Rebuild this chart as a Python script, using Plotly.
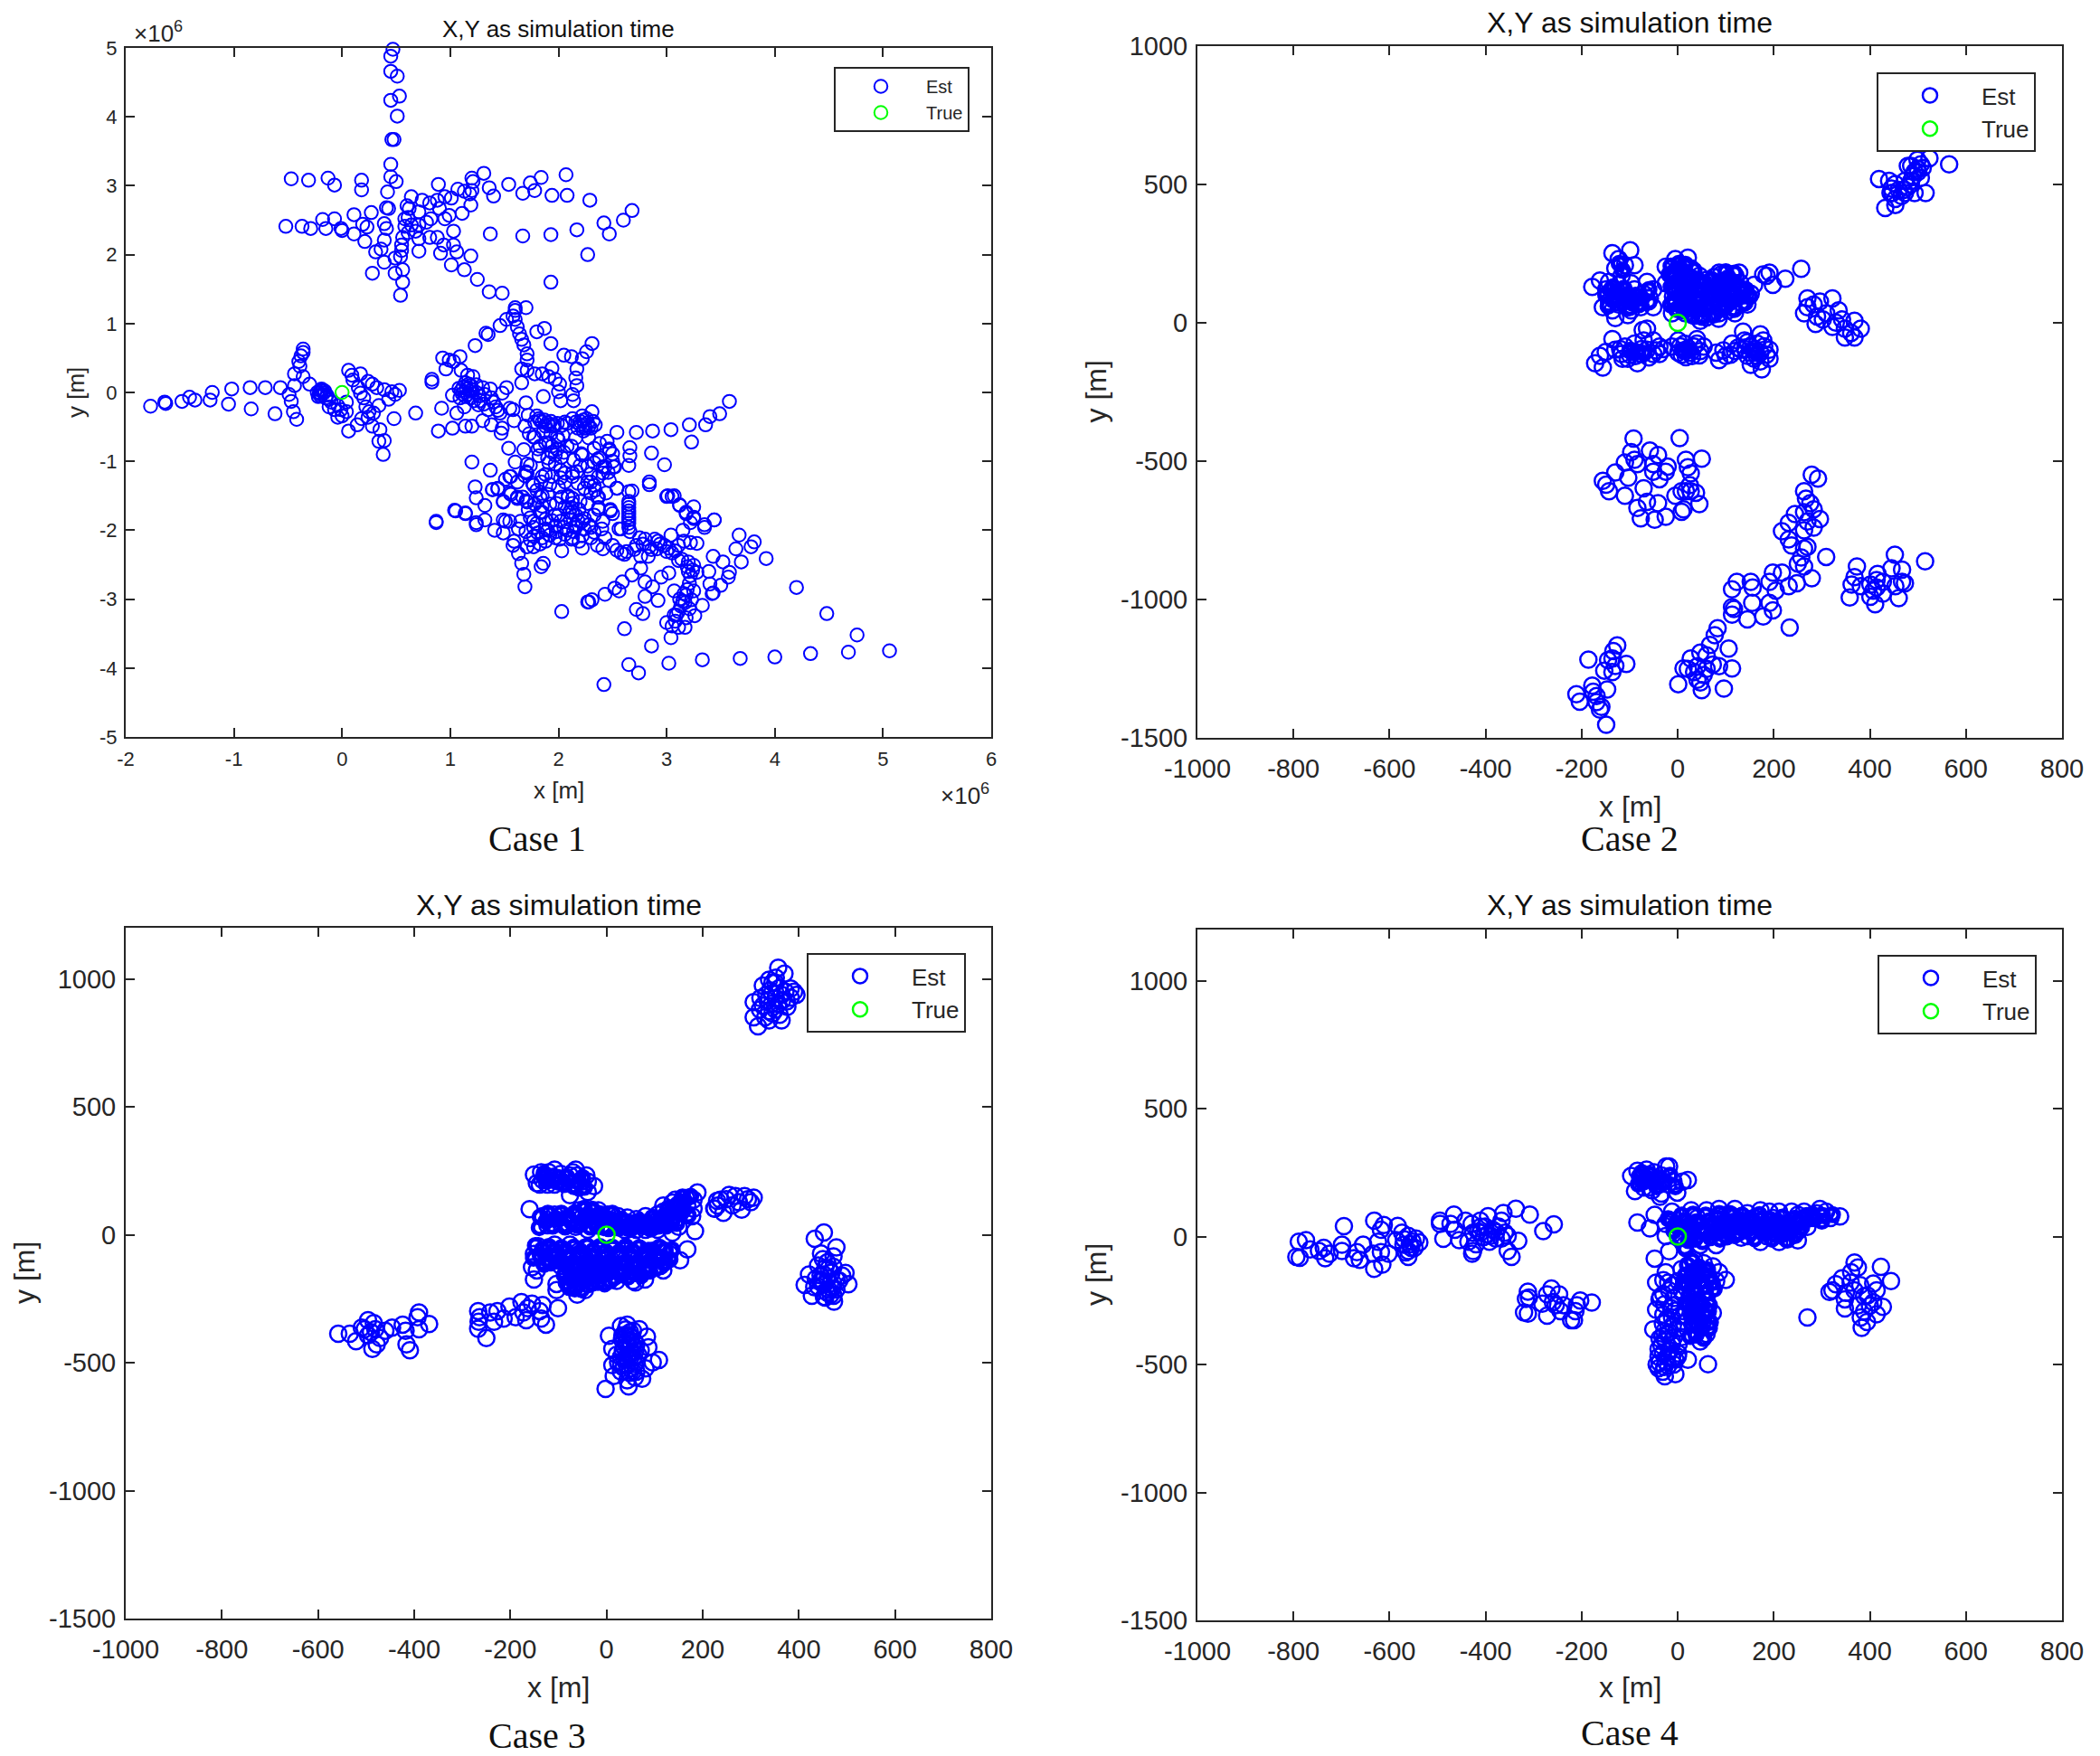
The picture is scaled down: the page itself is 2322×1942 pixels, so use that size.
import plotly.graph_objects as go

W, H = 2322, 1942

# values, (x, y); case 1 is in units of 1e6 m
case1_est = [
    (.47,4.98),(.45,4.88),(.45,4.66),(.51,4.59),(.53,4.30),(.45,4.24),(.51,4.01),(.46,3.67),(.48,3.67),(.45,3.31),(.45,3.13),(.50,3.06),(.42,2.91),
    (-.47,3.10),(-.31,3.08),(-.13,3.11),(-.07,3.01),(.18,3.08),(.18,2.94),
    (-.52,2.41),(-.37,2.41),(-.29,2.38),(-.18,2.51),(-.15,2.38),(-.07,2.52),(-.01,2.38),(0,2.35),(.11,2.58),(.11,2.30),(.19,2.44),(.23,2.40),(.27,2.61),(.21,2.19),(.31,2.04),(.36,2.08),(.39,2.21),(.39,2.45),(.41,2.68),(.43,2.67),(.41,2.38),(.39,1.89),(.28,1.73),(.49,1.73),(.49,1.95),(.54,1.97),(.55,2.06),(.55,2.14),(.56,2.25),(.56,1.78),(.56,1.60),(.54,1.41),
    (.60,2.71),(.64,2.84),(.62,2.67),(.58,2.52),(.61,2.54),(.58,2.41),(.64,2.43),(.61,2.32),(.68,2.34),(.71,2.43),(.71,2.62),(.74,2.79),(.78,2.47),(.82,2.52),(.81,2.75),(.88,2.79),(.90,2.67),(.95,2.52),(.99,2.57),(.95,2.84),(1.01,2.82),(1.11,2.60),(1.19,2.72),(.89,3.02),(1.07,2.95),(1.13,2.92),(1.18,2.88),(1.20,2.93),(1.21,3.06),(1.20,3.11),(1.31,3.18),(1.36,2.97),(1.40,2.85),(1.54,3.02),(1.67,2.89),(1.74,3.04),(1.78,2.93),(1.84,3.12),(1.94,2.86),(2.07,3.16),(2.08,2.86),(2.29,2.79),(2.68,2.64),(2.60,2.50),(2.42,2.46),(2.17,2.36),(2.47,2.30),(1.93,2.29),(1.67,2.27),(1.37,2.30),(1.03,2.34),(.88,2.25),(.81,2.25),(.71,2.23),(.94,2.14),(.91,2.02),(1.03,2.14),(1.06,2.04),(1.19,1.98),(1.01,1.85),(1.13,1.78),(1.25,1.64),(1.36,1.46),(1.48,1.44),(1.93,1.60),(2.27,2.00),(.71,2.05),
    (-1.77,-.20),(-1.64,-.14),(-1.63,-.16),(-1.48,-.13),(-1.41,-.07),(-1.36,-.11),(-1.22,-.11),(-1.20,0),(-1.05,-.17),(-1.02,.05),(-.84,-.24),(-.85,.07),(-.71,.07),(-.57,.07),(-.62,-.31),(-.49,-.03),(-.47,-.13),(-.45,-.28),(-.42,-.39),(-.44,.10),(-.44,.27),(-.40,.45),(-.38,.53),(-.36,.63),(-.36,.58),(-.39,.38),(-.36,.23),(-.30,.12),
    (-.19,.05),(-.21,-.01),(-.22,-.06),(-.17,-.01),(-.18,.03),(-.15,-.08),(-.12,-.10),(-.10,-.14),(-.12,-.21),(-.07,-.25),(-.04,-.19),(-.01,-.25),(-.04,-.36),(0,-.34),(.04,-.28),(.04,-.14),
    (.06,.32),(.09,.25),(.10,.18),(.17,.27),(.24,.16),(.28,.12),(.32,.07),(.39,.04),(.46,.01),(.53,.03),(.49,-.03),(.43,-.10),(.34,-.19),(.17,-.01),(.20,-.08),(.22,-.21),(.25,-.28),(.29,-.30),(.24,-.36),(.18,-.38),(.14,-.47),(.06,-.56),(.28,-.49),(.35,-.54),(.34,-.71),(.39,-.70),(.38,-.90),(.48,-.38),(.68,-.30),(.15,.07),
    (1.60,1.23),(1.60,1.19),(1.70,1.23),(1.58,1.11),(1.60,1.06),(1.52,1.06),(1.46,.97),(1.62,.95),(1.64,.85),(1.66,.77),(1.68,.69),(1.71,.56),(1.71,.47),(1.80,.88),(1.87,.93),(1.93,.71),(1.33,.86),(1.35,.84),(1.23,.68),(2.05,.54),(2.12,.52),(2.31,.71),(2.26,.59),(2.22,.49),(2.17,.34),(2.16,.21),(2.17,.10),(2.13,-.03),(2.14,-.12),
    (.93,.50),(.99,.47),(1.03,.45),(1.09,.52),(.96,.34),(1.10,.32),(1.16,.25),(1.21,.23),(.83,.19),(.83,.15),
    (1.13,.01),(1.14,.14),(1.19,.10),(1.10,.03),(1.16,-.03),(1.19,-.08),(1.09,-.08),(1.13,-.21),(1.02,-.04),(.92,-.23),(1.06,-.30),(1.30,.07),(1.37,.05),(1.32,-.03),(1.38,-.08),(1.31,-.17),(1.35,-.25),(1.42,-.21),(1.46,-.30),(1.55,-.23),(1.58,-.25),(1.52,.07),(1.48,-.01),(1.59,-.41),(1.30,-.41),(1.38,-.47),(1.48,-.52),(1.47,-.59),(1.20,-.49),(1.14,-.49),(1.02,-.52),(.89,-.56),
    (1.66,.14),(1.66,.34),(1.71,.32),(1.78,.27),(1.85,.27),(1.94,.35),(1.91,.23),(1.97,.19),(2.01,.12),(2.00,.01),(2.02,-.12),(1.86,-.06),(1.70,-.15),(1.72,-.33),(1.69,-.49),
    (1.80,-.34),(1.85,-.43),(1.91,-.47),(1.99,-.45),(1.83,-.41),(1.88,-.49),(1.95,-.49),(2.08,-.45),(2.13,-.38),(2.22,-.34),(2.24,-.47),(2.30,-.52),(2.34,-.47),(2.26,-.38),(2.31,-.28),(2.20,-.47),(2.23,-.56),
    (2.54,-.58),(2.72,-.58),(2.87,-.56),(3.04,-.54),(3.21,-.47),(3.36,-.47),(3.40,-.35),(3.49,-.31),(3.58,-.13),(3.23,-.72),(2.98,-1.05),(2.86,-.88),(2.65,-1.06),(2.66,-.92),(2.66,-.80),(2.45,-.71),(2.47,-.82),(2.50,-.89),(2.51,-1.08),(2.54,-1.39),(2.84,-1.30),(2.84,-1.34),
    (1.54,-.81),(1.68,-.83),(1.81,-.82),(1.90,-.95),(2.21,-.89),(2.33,-.81),(2.33,-1.02),(2.38,-.95),(2.43,-1.08),(2.41,-1.17),
    (1.20,-1.01),(1.37,-1.13),(1.60,-1.01),(1.71,-1.04),(1.71,-1.17),(1.55,-1.22),(1.51,-1.26),(1.85,-1.22),(2.02,-1.13),(1.97,-1.04),(1.94,-.87),(1.99,-.82),(2.08,-.78),(1.88,-.73),(1.78,-.65),(1.73,-.60),(1.99,-.65),(2.17,-1.15),(2.13,-1.22),(2.27,-1.30),(2.33,-1.35),
    (1.23,-1.37),(1.24,-1.53),(1.32,-1.64),(1.39,-1.41),(1.44,-1.39),(1.55,-1.46),(1.62,-1.52),(1.70,-1.57),(1.49,-1.58),(1.77,-1.35),(1.85,-1.50),(1.98,-1.61),(2.09,-1.52),(2.13,-1.61),(2.36,-1.52),(2.37,-1.70),(2.48,-1.70),
    (3.01,-1.50),(3.07,-1.50),(3.12,-1.63),(3.18,-1.74),(3.25,-1.66),(3.25,-1.81),(3.44,-1.85),(3.35,-1.92),
    (1.05,-1.72),(1.14,-1.76),(.87,-1.87),(1.24,-1.89),(1.32,-1.85),(1.49,-1.85),(1.55,-1.87),(1.65,-1.87),(1.77,-1.87),(1.85,-1.74),(2.00,-1.78),(2.13,-1.74),
    (1.04,-1.71),(1.14,-1.75),(.87,-1.89),(1.24,-1.92),(1.41,-2.00),(1.49,-2.04),(1.51,-1.87),(1.58,-2.22),(1.59,-2.16),(1.63,-2.34),(1.66,-2.48),(1.68,-2.64),(1.69,-2.82),(1.84,-2.53),(1.86,-2.48),(1.71,-2.24),(1.77,-2.24),(1.83,-2.20),(1.88,-2.16),(1.97,-2.11),(2.03,-2.30),(2.12,-2.13),(2.19,-2.16),(2.22,-2.26),(2.30,-2.11),(2.36,-2.22),(2.41,-2.27),(2.50,-2.22),(2.54,-2.29),(2.58,-2.33),(2.63,-2.31),(2.61,-2.35),
    (2.65,-1.44),(2.65,-1.58),(2.65,-1.62),(2.65,-1.67),(2.65,-1.72),(2.65,-1.76),(2.65,-1.81),(2.65,-1.85),(2.65,-1.90),(2.65,-1.96),(2.68,-1.43),(2.58,-1.98),(2.66,-2.02),
    (2.75,-2.11),(2.80,-2.13),(2.72,-2.22),(2.89,-2.13),(2.94,-2.20),(2.83,-2.38),(2.76,-2.38),(2.76,-2.55),(2.68,-2.65),(2.59,-2.75),(2.52,-2.84),(2.56,-2.88),(2.43,-2.93),(2.31,-3.01),(2.27,-3.04),(2.03,-3.18),(2.80,-2.75),(2.87,-2.82),(2.80,-2.96),(2.92,-3.02),(2.72,-3.15),(2.78,-3.21),(2.61,-3.43),(2.86,-3.68),(3.04,-3.56),(3.00,-3.34),(3.05,-3.39),(3.11,-3.41),(3.17,-3.41),(2.95,-2.68),(3.02,-2.62),(3.07,-2.88),(3.05,-2.33),(3.00,-2.31),(2.91,-2.27),(3.11,-2.22),(3.16,-2.16),(3.22,-2.18),(3.28,-2.19),(3.04,-2.07),(3.15,-2.00),(3.35,-1.96),(3.44,-1.85),(3.22,-1.89),(3.25,-1.83),(3.18,-1.76),(3.12,-1.64),(3.05,-1.51),(3.00,-1.51),(3.11,-2.44),(3.19,-2.53),(3.25,-2.51),(3.28,-2.61),(3.39,-2.60),(3.43,-2.38),(3.52,-2.46),(3.67,-2.07),(3.64,-2.27),(3.69,-2.46),(3.78,-2.24),(3.81,-2.17),(3.92,-2.41),(3.58,-2.61),(3.57,-2.68),(3.50,-2.80),(3.43,-2.91),(3.42,-2.92),(3.40,-2.78),(3.33,-3.09),(3.26,-3.24),
    (3.22,-2.66),(3.21,-2.77),(3.19,-2.86),(3.18,-2.94),(3.15,-3.03),(3.13,-3.10),(3.11,-3.18),(3.09,-3.23),(3.07,-3.23),(3.25,-2.88),(3.23,-3.01),(3.21,-3.14),(3.18,-3.27),
    (2.65,-3.95),(2.74,-4.07),(2.42,-4.24),(3.02,-3.93),(3.33,-3.88),(3.68,-3.86),(4.00,-3.84),(4.33,-3.79),(4.68,-3.77),(5.06,-3.75),(4.76,-3.52),(4.48,-3.21),(4.20,-2.83),(2.28,-3.04),
    (1.77,-.65),(1.83,-.78),(1.91,-.73),(2.00,-.69),(1.97,-.91),(2.05,-.87),(2.12,-.78),(2.22,-.91),(2.47,-.84),(2.50,-1.00),(2.52,-1.08),(2.41,-1.08),(2.36,-.97),(2.20,-1.06),(2.13,-1.17),(2.06,-1.17),(1.91,-1.02),(1.88,-1.19),(1.74,-1.06),(1.70,-1.15),(1.69,-1.21),(1.56,-1.22),(1.44,-1.40),(1.39,-1.41),(1.49,-1.59),(1.56,-1.48),(1.62,-1.54),(1.67,-1.52),(1.71,-1.59),(1.76,-1.32),(1.84,-1.30),(1.83,-1.52),(1.90,-1.48),(1.94,-1.22),(2.02,-1.24),(2.00,-1.37),(2.09,-1.50),(2.13,-1.54),(2.19,-1.70),(2.24,-1.39),(2.30,-1.30),(2.37,-1.22),(2.47,-1.28),(2.54,-1.39),(2.37,-1.52),(2.27,-1.61),(2.37,-1.67),(2.48,-1.72),(2.50,-1.76),(2.41,-1.87),(2.33,-1.78),(2.24,-1.83),(2.16,-1.78),(2.12,-1.67),(1.83,-1.74),(1.85,-1.65),(1.97,-1.78),(2.02,-1.87),(1.97,-1.94),(1.88,-1.98),(1.77,-1.96),(1.70,-2.02),(1.77,-2.09),(1.85,-2.11),(1.92,-2.07),(2.01,-2.13),(2.08,-2.00),(2.16,-1.96),(2.24,-1.98),(2.33,-2.03),(2.43,-2.11),(2.56,-1.98),(2.13,-2.11),(2.16,-1.92),(2.11,-1.85),(2.22,-1.87),
]

# crowded spots of case 1, read where the rings overlap
case1_more = [
    (1.12,.08),(1.15,.05),(1.18,.02),(1.11,-.02),(1.14,-.06),(1.17,.12),(1.08,.06),(1.20,.04),(1.24,0),(1.27,-.05),(1.22,-.12),(1.28,-.12),(1.24,.11),(1.26,-.18),(1.40,-.14),(1.44,-.26),
    (1.82,-.38),(1.87,-.40),(1.90,-.44),(1.93,-.42),(1.96,-.47),(2.03,-.48),(2.06,-.43),(2.20,-.42),(2.23,-.40),(2.27,-.44),(2.28,-.50),(2.25,-.52),(2.32,-.42),(2.18,-.52),(2.16,-.43),(1.78,-.43),
    (-.20,.03),(-.19,-.03),(-.16,.02),(-.20,-.05),(-.23,0),(-.14,-.04),
    (1.86,-.58),(1.93,-.60),(2.04,-.62),(2.16,-.66),(2.28,-.66),(2.38,-.74),(1.82,-.92),(1.94,-.78),(2.03,-.94),(2.14,-.98),(2.27,-1.07),(2.30,-1.18),(2.46,-1.16),
    (1.62,-1.30),(1.80,-1.42),(1.92,-1.34),(2.06,-1.30),(2.18,-1.32),(2.34,-1.42),(2.44,-1.46),(1.72,-1.70),(1.78,-1.62),(1.92,-1.62),(2.03,-1.52),(2.06,-1.66),(2.20,-1.58),(2.30,-1.46),
    (1.63,-1.98),(1.74,-1.82),(1.80,-1.90),(1.88,-1.84),(1.94,-1.86),(2.05,-1.96),(2.10,-1.74),(2.18,-1.86),(2.28,-1.92),(2.40,-1.98),(1.74,-2.14),(1.81,-2.04),(1.90,-2.00),(1.98,-2.02),(2.06,-2.06),(2.14,-2.02),(2.22,-2.08),(2.30,-1.96),
    (2.78,-2.20),(2.84,-2.24),(2.92,-2.16),(2.98,-2.22),(3.02,-2.26),(3.08,-2.30),(2.86,-2.28),(2.70,-2.28),(3.14,-2.42),(3.20,-2.46),(3.24,-2.58),(3.20,-2.60),(3.16,-2.92),(3.12,-3.00),(3.17,-3.05),(3.08,-3.32),
]

case2_est = [
    (419,520),(432,415),(440,513),(443,469),(453,502),(453,426),(466,458),(479,491),(479,567),(486,513),(499,589),(493,546),(506,573),(524,595),(565,573),(516,469),(506,524),(493,469),(453,448),(473,513),(486,567),(499,556),(447,469),(460,480),(473,469),
    (-136,252),(-99,262),(-123,230),(-110,208),(-90,208),(-130,197),(-178,130),(-162,153),(-149,121),(-143,77),(-130,17),(-104,28),(-64,148),(-58,88),(-84,77),(-110,110),(-130,99),(-90,121),(-156,56),(-77,56),(-51,121),(-104,56),(-123,66),(-143,148),(-51,56),(-71,105),(-136,45),(-97,45),(-123,137),(-97,143),(-117,170),
    (-25,203),(-5,230),(21,235),(8,208),(27,197),(-5,186),(-25,143),(-12,34),(14,45),(47,7),(47,34),(67,34),(86,34),(119,34),(145,66),(132,121),(128,181),(86,181),(159,137),(185,170),(178,175),(191,181),(224,159),(257,195),(198,137),(152,105),
    (-5,60),(10,75),(25,55),(40,70),(55,60),(70,75),(85,60),(100,75),(115,60),(-10,95),(5,110),(20,90),(35,105),(50,95),(65,110),(80,90),(95,105),(110,90),(125,110),(-5,130),(10,145),(25,125),(40,140),(55,130),(70,145),(85,125),(100,140),(115,125),(130,145),(0,165),(15,180),(30,160),(45,170),(60,155),(75,165),(90,175),(105,160),(120,170),(10,200),(0,120),(15,35),(35,25),(60,20),(85,15),(105,45),(130,75),(140,100),
    (-64,-21),(-73,-26),(-136,-59),(-162,-119),(-172,-146),(-156,-162),(-130,-97),(-104,-130),(-84,-146),(-110,-86),(-90,-75),(-71,-64),(-51,-64),(-38,-86),(-51,-113),(-77,-113),(-97,-102),(-64,-97),(-117,-113),(-38,-113),
    (1,-64),(40,-59),(-12,-86),(14,-75),(34,-86),(54,-86),(17,-124),(1,-108),(27,-108),(47,-102),
    (136,-32),(172,-42),(86,-135),(80,-108),(113,-75),(119,-102),(100,-119),(145,-70),(178,-64),(191,-97),(172,-140),(175,-168),(159,-130),(145,-119),(172,-108),(152,-86),(132,-97),(152,-152),(139,-64),(191,-130),
    (270,88),(270,56),(290,23),(287,-4),(322,88),(296,77),(263,34),(309,34),(335,45),(329,1),(348,-21),(368,7),(368,-53),(381,-21),(348,-53),(322,-15),(302,12),(361,-37),(342,12),(283,66),
    (-92,-418),(4,-417),(-97,-467),(-58,-462),(-90,-495),(-41,-478),(-110,-505),(-84,-511),(-51,-511),(-21,-520),(17,-495),(50,-491),(21,-522),(27,-544),(-130,-541),(-156,-571),(-149,-585),(-143,-609),(-103,-560),(-110,-625),(-71,-598),(-38,-565),(-64,-647),(-84,-669),(-77,-707),(-48,-712),(-25,-701),(-41,-652),(-5,-625),(8,-609),(27,-609),(38,-614),(45,-655),(8,-683),(12,-674),(-51,-538),(-25,-538),(17,-609),(25,-587),
    (279,-549),(292,-563),(263,-609),(267,-636),(276,-652),(283,-674),(296,-709),(244,-691),(231,-723),(263,-685),(283,-740),(217,-753),(231,-783),(237,-805),(263,-750),(270,-718),(263,-816),(270,-810),(309,-846),(257,-848),(250,-870),(263,-881),(279,-923),(248,-941),
    (217,-903),(198,-903),(191,-936),(204,-968),(231,-952),(152,-936),(156,-957),(123,-936),(113,-963),(113,-1028),(117,-1034),(113,-1055),(145,-1072),(155,-1012),(191,-1012),(198,-1039),(178,-1061),(233,-1101),
    (452,-838),(515,-862),(373,-881),(368,-919),(445,-887),(467,-892),(416,-908),(362,-946),(381,-952),(401,-946),(414,-957),(427,-936),(467,-936),(473,-941),(358,-993),(401,-990),(411,-1017),(460,-995),(427,-979),(414,-930),(453,-952),(407,-968),
    (83,-1104),(77,-1129),(67,-1164),(106,-1177),(47,-1192),(27,-1213),(12,-1249),(1,-1306),(113,-1249),(86,-1241),(73,-1235),(60,-1202),(41,-1241),(60,-1251),(34,-1262),(54,-1273),(41,-1290),(50,-1328),(96,-1322),(47,-1300),(21,-1251),
    (-186,-1217),(-126,-1166),(-134,-1186),(-145,-1219),(-136,-1213),(-107,-1233),(-153,-1257),(-136,-1262),(-130,-1240),(-178,-1311),(-147,-1325),(-211,-1342),(-204,-1369),(-169,-1349),(-169,-1371),(-159,-1388),(-162,-1398),(-149,-1453),(-176,-1333),
    (490,530),(500,545),(510,560),(470,480),(485,500),(445,485),
    (-150,-105),(-120,-95),(-100,-115),(-88,-120),(-75,-95),(-60,-125),(-45,-100),(-30,-95),(-115,-130),(-90,-105),
    (5,-85),(12,-100),(22,-92),(40,-75),(8,-115),(30,-120),(45,-118),
    (160,-95),(165,-120),(150,-108),(140,-95),(180,-85),(185,-115),(125,-90),(110,-115),(95,-100),(165,-75),
]

# solid looking parts, estimated inside the filled areas, drawn with a heavier ring
case2_solid = [
    (-3,48),(6,62),(18,47),(31,62),(44,50),(58,47),(72,64),(88,47),(101,62),(118,48),(-8,82),(7,94),(22,78),(36,90),(50,80),(66,92),(82,78),(96,90),(111,76),(128,92),
    (-7,116),(9,128),(23,112),(38,124),(53,114),(68,128),(84,110),(98,124),(114,108),(131,126),(-2,150),(13,160),(27,146),(42,156),(57,144),(71,156),(87,146),(102,156),(118,146),(8,190),(20,172),(34,190),(-10,172),
    (-140,118),(-125,85),(-112,125),(-100,92),(-88,100),(-75,88),(-135,82),(-115,72),(-95,72),(-80,66),(-128,112),(-105,100),(-122,215),(-115,190),
    (-85,-105),(-70,-110),(-100,-100),(10,-100),(25,-100),(165,-110),(155,-100),
    (-14,205),(2,215),(16,212),(-18,175),(-14,130),(100,185),(118,180),(142,120),(150,95),(140,72),(-15,65),(30,25),(50,20),(75,28),(-60,120),(-150,100),(-145,60),(-60,75),(-100,55),(-135,130),
]

case3_est = [
    (357,1044),(370,1021),(338,997),(325,974),(351,985),(383,962),(395,938),(306,909),(306,850),(315,815),(338,838),(364,838),(332,938),(364,938),(344,903),(376,891),(319,880),(351,880),(383,927),(344,945),(357,903),(338,874),
    (-151,235),(-133,214),(-120,244),(-108,255),(-95,238),(-139,196),(-123,196),(-108,196),(-76,232),(-70,202),(-76,155),(-61,232),(-42,232),(-39,208),(-26,190),(-39,167),(-57,185),(-111,226),(-136,244),(-92,208),(-51,208),(-64,255),(-70,244),(-145,202),(-117,220),
    (-160,100),(-133,73),(-123,37),(-108,79),(-95,43),(-70,67),(-57,96),(-39,96),(-17,96),(2,79),(24,73),(43,67),(62,61),(81,73),(99,49),(118,114),(137,126),(165,143),(189,165),(181,102),(178,73),(150,31),(137,8),(184,14),(106,20),(81,20),(62,20),(37,20),(-39,20),(-64,31),(-51,67),(-20,55),(5,37),(30,43),(49,37),(87,31),(118,90),(150,96),(168,114),(131,67),(150,67),(106,79),(-79,43),(-7,43),(74,43),(143,137),(181,137),
    (225,102),(237,137),(231,114),(230,133),(224,103),(249,139),(262,115),(281,98),(294,139),(287,151),(275,127),(255,156),(306,145),(243,86),(300,127),(268,151),
    (-142,-45),(-151,-75),(-108,-39),(-76,-39),(-45,-51),(55,-39),(87,-63),(115,-69),(131,-75),(168,-57),(153,-100),(118,-139),(80,-175),(60,-186),(21,-180),(-20,-175),(-61,-234),(-45,-216),(-104,-216),(-104,-192),(-151,-175),(-145,-139),(-155,-127),(-133,-98),(-101,-86),(-70,-98),(-39,-86),(-7,-98),(24,-98),(55,-98),(87,-110),(118,-98),(-57,-145),(-32,-133),(-7,-145),(18,-133),(-70,-169),(-39,-169),(43,-145),(-14,-63),(12,-63),(37,-63),(-120,-63),(-89,-69),(-57,-63),(-64,-192),(-39,-192),(80,-133),(112,-122),(-82,-145),(55,-180),(-7,-180),(-26,-86),(5,-110),(30,-133),(-45,-122),(-95,-122),(99,-86),(74,-86),
    (-101,-287),(-126,-351),(-133,-275),(-139,-298),(-155,-269),(-164,-287),(-177,-263),(-167,-334),(-189,-322),(-202,-281),(-214,-328),(-227,-298),(-242,-304),(-234,-340),(-267,-298),(-264,-322),(-266,-340),(-267,-367),(-250,-404),(-173,-304),(-136,-328),
    (-369,-349),(-390,-304),(-393,-322),(-390,-369),(-424,-351),(-418,-375),(-416,-428),(-409,-451),(-446,-363),(-460,-375),(-484,-345),(-496,-334),(-509,-363),(-534,-387),(-558,-387),(-521,-416),(-487,-446),(-478,-428),(-490,-381),(-481,-369),(-471,-404),(-496,-393),(-503,-369),
    (43,-351),(30,-357),(68,-369),(5,-395),(84,-398),(87,-440),(12,-446),(21,-469),(33,-393),(49,-416),(37,-440),(52,-463),(71,-452),(43,-487),(62,-499),(109,-489),(96,-499),(12,-510),(15,-552),(-2,-602),(46,-593),(74,-563),(59,-557),(30,-534),(49,-522),(81,-522),(43,-569),(49,-381),(37,-487),(55,-534),(62,-428),(24,-499),(49,-440),
    (452,9),(433,-16),(446,-73),(478,-49),(440,-120),(472,-85),(421,-155),(412,-196),(427,-238),(452,-243),(473,-261),(497,-149),(503,-193),(478,-214),(452,-155),(459,-108),(465,-190),(440,-202),(484,-179),(472,-238),
    (32,-410),(40,-426),(52,-400),(60,-454),(44,-470),(30,-478),(42,-508),(56,-480),(66,-470),(48,-396),
    (455,-130),(448,-178),(460,-170),(468,-148),(445,-158),(470,-210),(458,-225),(435,-172),(490,-160),
    (345,985),(360,965),(372,950),(340,955),(352,925),(335,915),(365,915),(375,912),(325,895),(345,865),(360,860),(330,850),(352,1005),(390,950),(320,925),
    (40,-370),(55,-375),(40,-392),(58,-418),(42,-412),(34,-452),(50,-478),(58,-505),(36,-520),(48,-540),(62,-535),(30,-510),
    (450,-95),(462,-132),(472,-125),(452,-195),(462,-215),(478,-175),(445,-180),(432,-205),(455,-245),(466,-235),
]

case3_solid = [
    (-140,28),(-126,52),(-112,34),(-100,60),(-86,30),(-74,52),(-62,38),(-48,58),(-34,30),(-22,48),(-10,62),(4,24),(16,50),(30,60),(44,26),(58,48),(70,32),(84,50),(98,30),(112,58),(124,34),(136,52),
    (-138,70),(-122,84),(-108,62),(-94,84),(-80,70),(-66,86),(-52,44),(-40,78),(-28,70),(-14,82),(-2,68),(12,84),(26,26),(40,52),(54,34),(68,54),(82,42),(96,68),(110,48),(122,78),(140,88),(152,82),
    (-30,100),(-46,104),(-62,82),(-20,34),(-6,28),(8,60),(20,32),(34,32),(50,22),(66,36),(92,22),(108,34),(126,48),(146,44),(158,92),(170,76),(160,128),(175,150),(148,120),(128,104),(140,108),(158,148),
    (-148,-42),(-134,-58),(-120,-46),(-108,-62),(-94,-50),(-82,-66),(-68,-48),(-54,-68),(-40,-44),(-28,-62),(-14,-46),(-2,-66),(12,-48),(26,-68),(40,-46),(54,-64),(68,-50),(82,-70),(96,-60),(110,-48),(122,-60),(136,-58),
    (-152,-92),(-138,-80),(-124,-96),(-112,-82),(-98,-104),(-84,-88),(-70,-112),(-56,-90),(-42,-106),(-30,-84),(-16,-112),(-2,-86),(10,-114),(24,-84),(38,-108),(50,-82),(64,-112),(78,-88),(92,-102),(106,-84),(120,-112),(132,-96),
    (-130,-116),(-116,-110),(-84,-122),(-70,-130),(-58,-116),(-46,-134),(-32,-114),(-20,-138),(-8,-118),(6,-136),(16,-116),(30,-144),(42,-120),(56,-128),(68,-146),(90,-142),(104,-130),
    (-88,-158),(-74,-150),(-60,-166),(-48,-150),(-34,-168),(-22,-152),(-10,-162),(4,-150),(16,-168),(30,-156),(44,-166),(58,-152),(72,-160),
    (-84,-188),(-72,-176),(-56,-192),(-46,-182),(-30,-190),(-18,-186),(-4,-192),(8,-180),(-78,-206),(-66,-212),(-52,-214),
    (-130,225),(-124,210),(-112,212),(-100,224),(-88,196),(-82,226),(-58,206),(-50,224),(-68,188),(-46,186),(-130,240),(-100,205),
]

case4_est = [
    (-794,-79),(-787,-83),(-789,-20),(-774,-14),(-765,-50),(-747,-56),(-737,-44),(-734,-85),(-725,-67),(-699,-32),(-695,41),(-699,-56),(-674,-85),(-662,-91),(-668,-61),(-655,-32),(-632,62),(-618,27),(-612,45),(-634,-67),(-624,-20),(-632,-126),(-615,-109),(-602,-67),(-618,-61),(-583,42),(-574,15),(-586,-14),(-561,3),(-552,-20),(-538,-23),(-561,-56),(-561,-79),(-571,-32),(-555,-44),
    (-495,62),(-495,50),(-466,86),(-442,62),(-488,-9),(-455,-14),(-464,27),(-473,50),(-429,50),(-426,15),(-436,-20),(-426,-56),(-428,-67),(-411,62),(-395,80),(-392,-20),(-401,39),(-385,27),(-373,39),(-363,92),(-337,109),(-308,86),(-367,-8),(-354,3),(-332,-17),(-354,-56),(-346,-79),(-280,21),(-258,48),(-379,-8),(-411,15),(-367,62),(-360,15),(-389,3),
    (-312,-215),(-310,-238),(-316,-244),(-320,-297),(-312,-301),(-263,-203),(-247,-226),(-272,-226),(-282,-262),(-272,-309),(-254,-268),(-244,-291),(-260,-256),(-222,-327),(-216,-327),(-203,-250),(-210,-268),(-179,-258),(-213,-291),(-238,-268),
    (-97,237),(-84,257),(-65,262),(-24,274),(-18,274),(21,221),(10,215),(-89,178),(-71,192),(-37,156),(-34,168),(-1,172),(-65,227),(-46,215),(-34,239),(-59,192),(-21,204),(-9,215),(-77,227),(-49,251),(-37,204),(-53,180),
    (-84,55),(-48,85),(-58,32),(-12,97),(28,103),(60,103),(86,108),(119,108),(172,103),(211,97),(237,97),(263,97),(296,108),(309,97),(338,79),(318,73),(270,38),(250,-15),(211,-21),(172,-21),(132,-4),(80,-33),(47,-33),(-18,-57),(-48,-86),
    (1,61),(41,73),(80,61),(119,73),(159,73),(198,73),(237,61),(276,73),(41,38),(80,26),(119,38),(159,26),(198,38),(231,26),(132,50),(185,2),(224,-4),(145,2),(34,2),(60,14),(14,-33),(21,50),(100,85),(145,91),(191,97),(250,85),(289,91),(-25,50),(-25,2),
    (-25,-139),(34,-92),(54,-104),(8,-127),(73,-116),(100,-169),(80,-174),(54,-139),(28,-163),(1,-174),(47,-198),(67,-210),(34,-233),(60,-245),(73,-298),(54,-281),(34,-269),(60,-316),(41,-345),(60,-381),(47,-410),(34,-363),(14,-292),(14,-340),(8,-210),(63,-499),(-45,-180),(-38,-245),(-45,-286),(-51,-363),(-31,-340),(-12,-316),(-25,-410),(-31,-457),(-38,-493),(-31,-528),(-27,-546),(-5,-538),(21,-481),(1,-457),(-12,-422),(8,-393),(-18,-210),(-18,-375),(-38,-398),(-5,-481),(-12,-269),(86,-139),
    (368,-101),(375,-121),(423,-118),(444,-174),(361,-139),(342,-163),(322,-210),(329,-186),(407,-184),(414,-210),(368,-210),(348,-245),(348,-281),(388,-233),(427,-275),(407,-257),(414,-304),(381,-316),(383,-357),(394,-334),(270,-316),(375,-269),(388,-292),(316,-216),
    (-30,-170),(-10,-190),(-30,-225),(-8,-240),(-28,-265),(-6,-290),(-30,-305),(-10,-345),(-28,-370),(-8,-395),(-34,-425),(-15,-445),(-40,-440),(-22,-470),(-8,-500),(-40,-515),(-20,-505),(2,-420),(-2,-360),(4,-310),
    (-558,-30),(-566,-62),(-548,-44),(-545,-8),(-570,-10),(-416,20),(-404,-2),(-420,-30),(-396,8),(-378,18),(-410,38),
    (395,-230),(380,-190),(360,-180),(400,-270),(350,-220),
    (-22,-380),(-12,-405),(-32,-390),(-18,-445),(-25,-490),(-12,-475),(-40,-470),(-28,-510),(-44,-500),(0,-470),(-22,-320),(-14,-280),(-36,-235),(-20,-180),
]

case4_solid = [
    (-20,70),(-6,44),(8,84),(20,28),(32,88),(46,56),(58,84),(70,44),(84,72),(96,36),(108,90),(122,56),(134,84),(146,30),(158,58),(170,86),(182,40),(194,66),(206,24),(218,76),(230,44),(244,72),(256,54),(268,82),
    (-8,22),(8,40),(24,14),(38,58),(52,28),(66,62),(78,12),(92,54),(104,20),(116,60),(128,14),(140,44),(152,14),(166,50),(178,12),(190,46),(202,8),(214,52),(226,14),(240,36),(252,20),(258,36),
    (6,-8),(22,-16),(36,-10),(52,-20),(68,-4),(88,-10),(102,-2),(118,4),(160,-8),(196,-10),(216,6),(228,-14),(244,4),(285,70),(302,82),(322,86),(300,60),(280,88),(16,-48),
    (20,-110),(44,-118),(62,-130),(30,-135),(42,-155),(66,-155),(16,-150),(50,-175),(72,-180),(20,-190),(38,-210),(58,-222),(76,-205),(24,-230),(44,-250),(66,-268),(22,-260),(42,-290),(64,-292),(28,-310),(46,-325),(68,-335),(30,-345),(50,-360),(66,-358),(38,-385),(54,-398),(26,-390),(12,-180),(16,-260),
    (-80,235),(-72,212),(-60,245),(-52,222),(-40,230),(-28,215),(-16,240),(-5,195),(-75,250),(-82,205),(-44,195),
    (74,40),(30,40),(58,16),(90,22),(112,38),(136,64),(150,70),(174,68),(186,22),(210,36),(236,20),(250,60),(112,86),(86,90),(128,36),(156,36),(206,62),(-14,66),(14,62),(170,28),(196,28),
    (30,-95),(52,-145),(34,-175),(58,-195),(32,-205),(50,-270),(30,-285),(56,-310),(40,-340),
]

true_xy = [(0, 0)]

x_ticks_case1 = [-2, -1, 0, 1, 2, 3, 4, 5, 6]
y_ticks_case1 = [-5, -4, -3, -2, -1, 0, 1, 2, 3, 4, 5]
x_ticks = [-1000, -800, -600, -400, -200, 0, 200, 400, 600, 800]
y_ticks = [-1500, -1000, -500, 0, 500, 1000]

panels = [
    dict(est=case1_est + case1_more, solid=[], caption="Case 1", box=(139, 1096, 53, 815), xr=(-2, 6), yr=(-5, 5),
         xt=x_ticks_case1, yt=y_ticks_case1, font=22, title_size=26, legend_size=20, ms=14.5, lw=2,
         legend=(1072, 74), itemw=90, standoff=4, cap=(594, 928), title_y=32, xt_y=874, yt_x=84),
    dict(est=case2_est, solid=case2_solid, caption="Case 2", box=(1324, 2280, 51, 816), xr=(-1000, 800), yr=(-1500, 1000),
         xt=x_ticks, yt=y_ticks, font=29, title_size=32, legend_size=26, ms=18, lw=2.5,
         legend=(2251, 80), itemw=104, standoff=7, cap=(1802, 928), title_y=25, xt_y=892, yt_x=1212),
    dict(est=case3_est, solid=case3_solid, caption="Case 3", box=(139, 1096, 1026, 1790), xr=(-1000, 800), yr=(-1500, 1200),
         xt=x_ticks, yt=y_ticks, font=29, title_size=32, legend_size=26, ms=18, lw=2.5,
         legend=(1068, 1054), itemw=104, standoff=7, cap=(594, 1919), title_y=1001, xt_y=1866, yt_x=27),
    dict(est=case4_est, solid=case4_solid, caption="Case 4", box=(1324, 2280, 1028, 1792), xr=(-1000, 800), yr=(-1500, 1200),
         xt=x_ticks, yt=y_ticks, font=29, title_size=32, legend_size=26, ms=18, lw=2.5,
         legend=(2252, 1056), itemw=104, standoff=7, cap=(1802, 1916), title_y=1001, xt_y=1866, yt_x=1212),
]

INK = "#262626"
BLUE = "#0000ff"
GREEN = "#00ff00"
SANS = "Liberation Sans"
SERIF = "Liberation Serif"


def px(x):
    return x / W


def py(y):
    return 1 - y / H


def tick_text(vals):
    # matlab prints a plain hyphen, not the unicode minus
    return [str(v) for v in vals]


def text(s, x, y, size, family=SANS, color=INK, anchor="center", angle=0):
    return dict(text=s, xref="paper", yref="paper", x=px(x), y=py(y), showarrow=False, textangle=angle,
                xanchor=anchor, yanchor="middle", font=dict(family=family, size=size, color=color))


fig = go.Figure()
annotations = []
layout = dict(
    width=W, height=H, autosize=False, showlegend=True,
    margin=dict(l=0, r=0, t=0, b=0, autoexpand=False),
    paper_bgcolor="white", plot_bgcolor="white",
)

for i, p in enumerate(panels):
    n = "" if i == 0 else str(i + 1)
    x0, x1, y0, y1 = p["box"]
    legend_name = "legend" + n
    if p["solid"]:
        fig.add_trace(go.Scatter(
            x=[a for a, b in p["solid"]], y=[b for a, b in p["solid"]], mode="markers", showlegend=False,
            xaxis="x" + n, yaxis="y" + n, legend=legend_name, cliponaxis=False,
            marker=dict(symbol="circle-open", size=14, color=BLUE, line=dict(width=5, color=BLUE)),
        ))
    fig.add_trace(go.Scatter(
        x=[a for a, b in p["est"]], y=[b for a, b in p["est"]], name="Est", mode="markers",
        xaxis="x" + n, yaxis="y" + n, legend=legend_name, cliponaxis=False,
        marker=dict(symbol="circle-open", size=p["ms"], color=BLUE, line=dict(width=p["lw"], color=BLUE)),
    ))
    fig.add_trace(go.Scatter(
        x=[a for a, b in true_xy], y=[b for a, b in true_xy], name="True", mode="markers",
        xaxis="x" + n, yaxis="y" + n, legend=legend_name, cliponaxis=False,
        marker=dict(symbol="circle-open", size=p["ms"], color=GREEN, line=dict(width=p["lw"], color=GREEN)),
    ))
    axis = dict(showgrid=False, zeroline=False, showline=True, mirror="ticks", linecolor=INK, linewidth=2,
                ticks="inside", ticklen=10, tickwidth=2, tickcolor=INK, tickmode="array", automargin=False,
                tickfont=dict(family=SANS, size=p["font"], color=INK))
    layout["xaxis" + n] = dict(
        axis, domain=[px(x0), px(x1)], range=list(p["xr"]), anchor="y" + n,
        tickvals=p["xt"], ticktext=tick_text(p["xt"]), ticklabelstandoff=p["standoff"],
    )
    layout["yaxis" + n] = dict(
        axis, domain=[py(y1), py(y0)], range=list(p["yr"]), anchor="x" + n,
        tickvals=p["yt"], ticktext=tick_text(p["yt"]), ticklabelstandoff=3,
    )
    layout[legend_name] = dict(
        x=px(p["legend"][0]), y=py(p["legend"][1]), xanchor="right", yanchor="top",
        bgcolor="white", bordercolor=INK, borderwidth=2,
        font=dict(family=SANS, size=p["legend_size"], color=INK),
        itemsizing="trace", itemwidth=p["itemw"],
    )
    mid = (x0 + x1) / 2
    annotations.append(text("X,Y as simulation time", mid, p["title_y"], p["title_size"], color="#111111"))
    annotations.append(text("x [m]", mid, p["xt_y"], p["title_size"]))
    annotations.append(text("y [m]", p["yt_x"], (y0 + y1) / 2, p["title_size"], angle=-90))
    annotations.append(text(p["caption"], p["cap"][0], p["cap"][1], 40, family=SERIF, color="#111111"))

annotations.append(text("×10<sup>6</sup>", 146, 36, 26, anchor="left"))
annotations.append(text("×10<sup>6</sup>", 1096, 878, 26, anchor="right"))

layout["annotations"] = annotations
fig.update_layout(**layout)
# drop the page's default body margin so the figure fills the window
fig.write_html("out.html", config={"displayModeBar": False},
               post_script="document.body.style.margin='0';document.body.style.overflow='hidden';")
